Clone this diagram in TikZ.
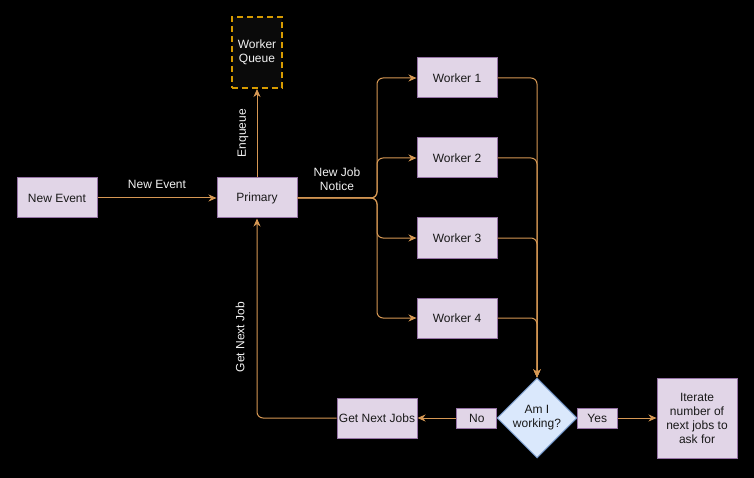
\documentclass[tikz,border=0pt]{standalone}
\usepackage{fontspec}
\setmainfont{Liberation Sans}
\usetikzlibrary{shapes.geometric,arrows.meta}
\definecolor{boxfill}{HTML}{E1D5E7}
\definecolor{boxline}{HTML}{9673A6}
\definecolor{diafill}{HTML}{DAE8FC}
\definecolor{dialine}{HTML}{6C8EBF}
\definecolor{edgecol}{RGB}{214,152,84}
\definecolor{queueline}{HTML}{D79B00}
\definecolor{lbltext}{HTML}{F2F2F2}
\begin{document}
\begin{tikzpicture}[x=1pt,y=-1pt,
  every node/.style={font=\fontsize{12}{14}\selectfont},
  procbox/.style={draw=boxline,fill=boxfill,line width=1pt,minimum width=80pt,minimum height=40pt,inner sep=0pt,align=center,text=black!90},
  tallbox/.style={procbox,minimum height=80pt},
  smallbox/.style={draw=boxline,fill=boxfill,line width=1pt,minimum width=40pt,minimum height=20pt,inner sep=0pt,text=black!90},
  decide/.style={diamond,draw=dialine,fill=diafill,line width=1pt,minimum width=80pt,minimum height=80pt,inner sep=0pt,align=center,text=black!90},
  queuebox/.style={draw=queueline,fill=black!96,line width=2pt,dash pattern=on 6pt off 4pt,minimum width=50pt,minimum height=71pt,inner sep=0pt,align=center,text=lbltext},
  edge/.style={draw=edgecol,line width=1pt,-{Stealth[length=8pt,width=7pt,inset=2.5pt]}},
  plain/.style={draw=edgecol,line width=1pt},
  lbl/.style={text=lbltext,align=center,inner sep=1pt}]
\useasboundingbox[fill=black] (0,0) rectangle (754,478);

\node[procbox] (newev) at (57,198) {New Event};
\node[procbox] (primary) at (257,198) {Primary};
\node[queuebox] (queue) at (257,52.5) {Worker\\Queue};
\node[procbox] (w1) at (457,78) {Worker 1};
\node[procbox] (w2) at (457,158) {Worker 2};
\node[procbox] (w3) at (457,238) {Worker 3};
\node[procbox] (w4) at (457,318) {Worker 4};
\node[decide] (dia) at (537,418) {Am I\\working?};
\node[procbox] (getnext) at (377,418) {Get Next Jobs};
\node[tallbox] (iter) at (697,418) {Iterate\\number of\\next jobs to\\ask for};

\coordinate (split) at (377,198);
\coordinate (loop) at (257,418);

\draw[edge] (newev.east) -- (primary.west);
\node[lbl] (lblnewev) at (157,184) {New Event};

\draw[edge] (primary.north) -- (queue.south);
\node[lbl,rotate=90] (lblenq) at (243,133) {Enqueue};

\foreach \w in {w1,w2,w3,w4}{
  \draw[edge,rounded corners=6pt] (primary.east) -- (split) |- (\w.west);
  \draw[edge,rounded corners=6pt] (\w.east) -| (dia.north);
}
\node[lbl] (lbljob) at (337,179) {New Job\\Notice};

\draw[edge] (dia.west) -- node[smallbox,pos=0.25] (no) {No} (getnext.east);
\draw[edge] (dia.east) -- node[smallbox,pos=0.25] (yes) {Yes} (iter.west);

\draw[edge,rounded corners=6pt] (getnext.west) -- (loop) -- (primary.south);
\node[lbl,rotate=90] (lblget) at (240,337) {Get Next Job};
\end{tikzpicture}
\end{document}
